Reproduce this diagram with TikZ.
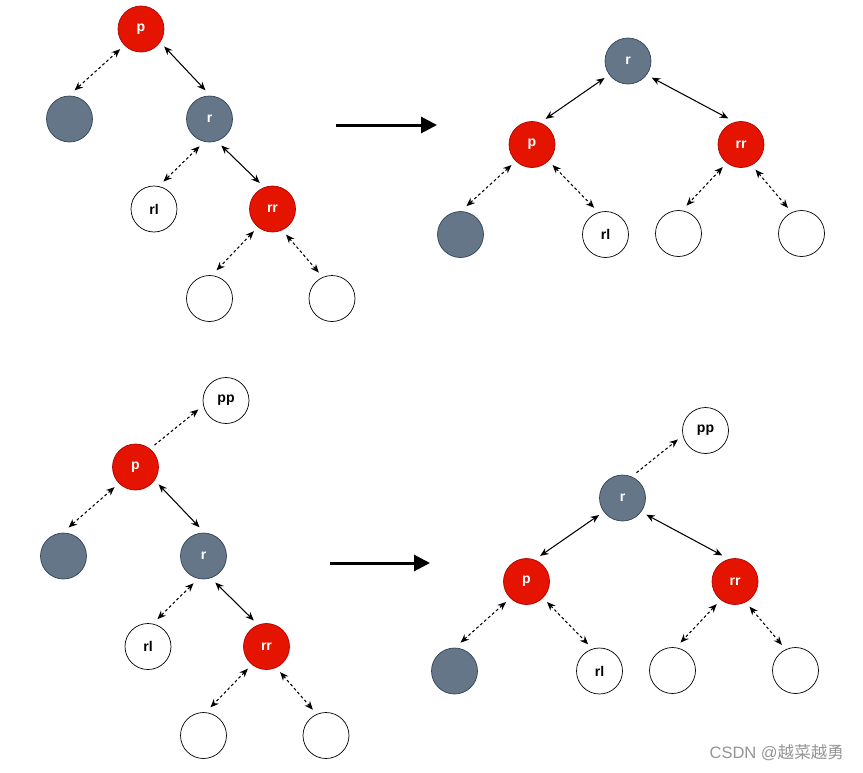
\documentclass[tikz,border=0pt]{standalone}
\usepackage{fontspec}
\setmainfont{Liberation Sans}
\newfontfamily\cjkfont{Noto Sans CJK SC}
\usetikzlibrary{arrows.meta}
\definecolor{rbred}{HTML}{E51400}
\definecolor{rbredline}{HTML}{B20000}
\definecolor{rbgray}{HTML}{647687}
\definecolor{rbgrayline}{HTML}{314354}
\tikzset{
treenode/.style={circle,minimum size=0.92cm,inner sep=0pt,outer sep=0.12cm,font=\bfseries\fontsize{8}{9}\selectfont},
rednode/.style={treenode,draw=rbredline,fill=rbred,text=white},
graynode/.style={treenode,draw=rbgrayline,fill=rbgray,text=white},
nilnode/.style={treenode,draw=black,fill=white},
link/.style={{Stealth[length=1.7mm,width=1.4mm]}-{Stealth[length=1.7mm,width=1.4mm]},semithick},
dlink/.style={link,dash pattern=on 1.6pt off 1.4pt},
uplink/.style={-{Stealth[length=1.7mm,width=1.4mm]},semithick,dash pattern=on 1.6pt off 1.4pt},
bigarrow/.style={-{Triangle[length=3.2mm,width=3.2mm]},line width=1.7pt}
}
\begin{document}
\begin{tikzpicture}[x=0.02cm,y=-0.02cm]
\useasboundingbox (0,0) rectangle (863,772);
% top left: before rotation
\node[rednode](p1) at (141,29){p};
\node[graynode](s1) at (69.5,119){};
\node[graynode](r1) at (209.5,119){r};
\node[nilnode](rl1) at (154,209){rl};
\node[rednode](rr1) at (272.5,209){rr};
\node[nilnode](a1) at (209.5,298.5){};
\node[nilnode](b1) at (332,298.5){};
\draw[dlink](p1.224)--(s1.80);\draw[link](p1.323)--(r1.98);
\draw[dlink](r1.250)--(rl1.71);\draw[link](r1.294)--(rr1.116);
\draw[dlink](rr1.230)--(a1.76);\draw[dlink](rr1.298)--(b1.117);
\coordinate(t1) at (336,125);\coordinate(t2) at (437,125);
\draw[bigarrow](t1)--(t2);
% top right: after rotation
\node[graynode](r2) at (628,61){r};
\node[rednode](p2) at (532,144.5){p};
\node[rednode](rr2) at (741,144.5){rr};
\node[graynode](s2) at (460.5,234.5){};
\node[nilnode](rl2) at (605.5,234.5){rl};
\node[nilnode](a2) at (678.5,233.5){};
\node[nilnode](b2) at (801.5,233.5){};
\draw[link](r2.216)--(p2.62);\draw[link](r2.325)--(rr2.116);
\draw[dlink](p2.225)--(s2.78);\draw[dlink](p2.315)--(rl2.113);
\draw[dlink](rr2.231)--(a2.74);\draw[dlink](rr2.300)--(b2.118);
% bottom left: with parent pp
\node[nilnode](pp3) at (226,400.5){pp};
\node[rednode](p3) at (135.5,467){p};
\node[graynode](s3) at (63.5,556){};
\node[graynode](r3) at (203.5,556){r};
\node[nilnode](rl3) at (148,646.5){rl};
\node[rednode](rr3) at (266.5,646.5){rr};
\node[nilnode](a3) at (203.5,735.5){};
\node[nilnode](b3) at (326,735.5){};
\draw[uplink](p3.49)--(pp3.198);
\draw[dlink](p3.224)--(s3.80);\draw[link](p3.323)--(r3.98);
\draw[dlink](r3.250)--(rl3.71);\draw[link](r3.294)--(rr3.116);
\draw[dlink](rr3.230)--(a3.76);\draw[dlink](rr3.298)--(b3.117);
\coordinate(t3) at (330,563);\coordinate(t4) at (430,563);
\draw[bigarrow](t3)--(t4);
% bottom right
\node[nilnode](pp4) at (705.5,430.5){pp};
\node[graynode](r4) at (622.5,498){r};
\node[rednode](p4) at (526.5,581.5){p};
\node[rednode](rr4) at (735,581.5){rr};
\node[graynode](s4) at (454.5,671){};
\node[nilnode](rl4) at (599.5,671){rl};
\node[nilnode](a4) at (672.5,670.5){};
\node[nilnode](b4) at (795.5,670.5){};
\draw[uplink](r4.61)--(pp4.198);
\draw[link](r4.216)--(p4.62);\draw[link](r4.325)--(rr4.116);
\draw[dlink](p4.225)--(s4.78);\draw[dlink](p4.315)--(rl4.113);
\draw[dlink](rr4.231)--(a4.74);\draw[dlink](rr4.300)--(b4.118);
\node[anchor=east,text=black!42,font=\fontsize{9.4}{11}\selectfont](wm) at (850,753){CSDN @{\cjkfont 越菜越勇}};
\end{tikzpicture}
\end{document}
